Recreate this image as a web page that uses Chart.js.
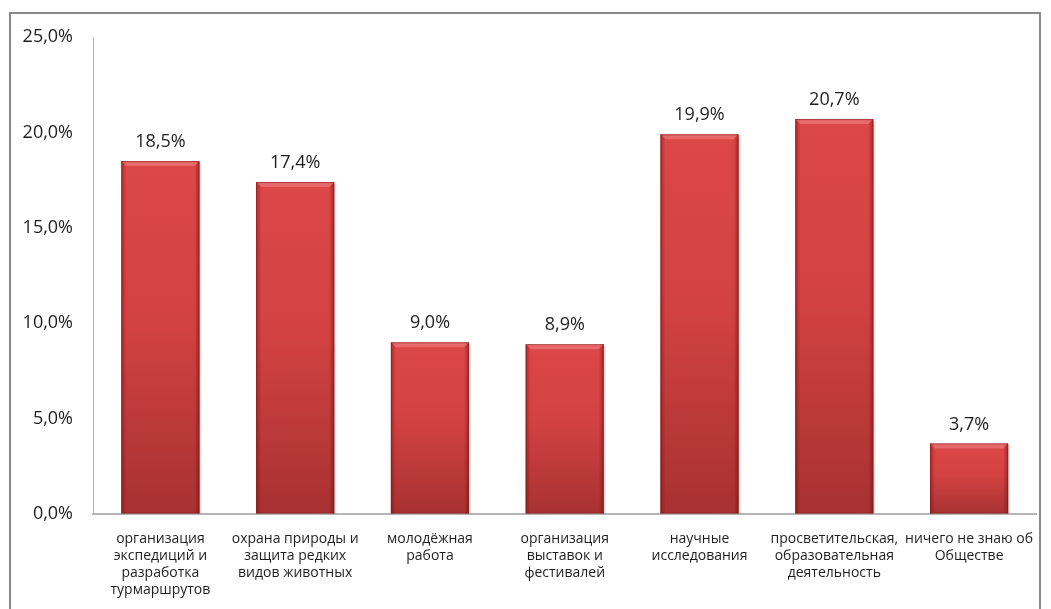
<!DOCTYPE html>
<html><head><meta charset="utf-8">
<script src="https://cdn.jsdelivr.net/npm/chart.js@4/dist/chart.umd.min.js"></script>
<style>
html,body{margin:0;padding:0;background:#fff;overflow:hidden;}
#frame{position:absolute;left:9px;top:12px;width:1032px;height:620px;border:2px solid #8a8a8a;box-sizing:border-box;}
#wrap{position:absolute;left:0;top:0;width:1051px;height:609px;}
</style></head><body>
<div id="frame"></div>
<div id="wrap"><canvas id="c"></canvas></div>
<script>
const categories = [
  ["организация", "экспедиций и", "разработка", "турмаршрутов"],
  ["охрана природы и", "защита редких", "видов животных"],
  ["молодёжная", "работа"],
  ["организация", "выставок и", "фестивалей"],
  ["научные", "исследования"],
  ["просветительская,", "образовательная", "деятельность"],
  ["ничего не знаю об", "Обществе"]
];
const values = [18.5, 17.4, 9.0, 8.9, 19.9, 20.7, 3.7];
const yTicks = [0, 5, 10, 15, 20, 25];

const fmt = v => v.toFixed(1).replace('.', ',') + '%';

function barFill(ctx) {
  const chart = ctx.chart;
  if (!chart.chartArea || ctx.raw === undefined) return '#d04040';
  const y = chart.scales.y;
  const top = y.getPixelForValue(ctx.raw), bottom = y.getPixelForValue(0);
  const g = chart.ctx.createLinearGradient(0, top, 0, bottom);
  g.addColorStop(0, '#dc4747');
  g.addColorStop(0.45, '#d34242');
  g.addColorStop(1, '#a83131');
  return g;
}

const bevel = {
  id: 'bevel',
  afterDatasetsDraw(chart) {
    const c = chart.ctx;
    chart.getDatasetMeta(0).data.forEach(el => {
      const l = el.x - el.width / 2, r = el.x + el.width / 2, t = el.y, b = el.base;
      c.save();
      c.fillStyle = 'rgba(0,0,0,0.12)';
      c.fillRect(r, t + 2, 2, b - t - 2);
      let g = c.createLinearGradient(l, 0, l + 5, 0);
      g.addColorStop(0, 'rgba(110,10,10,0.45)'); g.addColorStop(1, 'rgba(110,10,10,0)');
      c.fillStyle = g; c.fillRect(l, t, 5, b - t);
      g = c.createLinearGradient(r - 5, 0, r, 0);
      g.addColorStop(0, 'rgba(110,10,10,0)'); g.addColorStop(1, 'rgba(110,10,10,0.5)');
      c.fillStyle = g; c.fillRect(r - 5, t, 5, b - t);
      c.beginPath();
      c.moveTo(l, t); c.lineTo(r, t); c.lineTo(r - 5, t + 5); c.lineTo(l + 5, t + 5); c.closePath();
      c.fillStyle = 'rgba(255,170,170,0.35)'; c.fill();
      c.strokeStyle = 'rgba(130,30,30,0.55)'; c.lineWidth = 1;
      c.strokeRect(l + 0.5, t + 0.5, r - l - 1, b - t - 1);
      c.restore();
    });
  }
};

const valueLabels = {
  id: 'valueLabels',
  afterDatasetsDraw(chart) {
    const c = chart.ctx;
    c.save();
    c.font = '18px "Open Sans"';
    c.fillStyle = '#1e1e1e';
    c.textAlign = 'center';
    c.textBaseline = 'middle';
    chart.getDatasetMeta(0).data.forEach((el, i) => {
      c.fillText(fmt(values[i]), el.x, el.y - 19);
    });
    c.restore();
  }
};

new Chart(document.getElementById('c'), {
  type: 'bar',
  data: {
    labels: categories,
    datasets: [{
      data: values,
      backgroundColor: barFill,
      borderWidth: 0,
      barPercentage: 0.58,
      categoryPercentage: 1
    }]
  },
  options: {
    responsive: true,
    maintainAspectRatio: false,
    animation: false,
    events: [],
    layout: { padding: { top: 37, right: 13, left: 0, bottom: 0 } },
    plugins: { legend: { display: false }, tooltip: { enabled: false } },
    scales: {
      x: {
        grid: { color: 'rgba(0,0,0,0)', drawTicks: false },
        border: { display: true, color: '#b5b5b5', width: 2 },
        ticks: {
          color: '#1e1e1e', font: { family: 'Open Sans', size: 14, lineHeight: 1.2 },
          maxRotation: 0, minRotation: 0, autoSkip: false, padding: 17
        },
        afterFit(s) { s.height = 95; }
      },
      y: {
        min: 0, max: 25,
        afterBuildTicks(s) { s.ticks = yTicks.map(v => ({ value: v })); },
        grid: { color: 'rgba(0,0,0,0)', drawTicks: false },
        border: { display: true, color: '#b5b5b5', width: 1 },
        ticks: {
          color: '#1e1e1e', font: { family: 'Open Sans', size: 18 }, padding: 20,
          callback: v => fmt(v)
        },
        afterFit(s) { s.width = 93; }
      }
    }
  },
  plugins: [bevel, valueLabels]
});
</script>
</body></html>
